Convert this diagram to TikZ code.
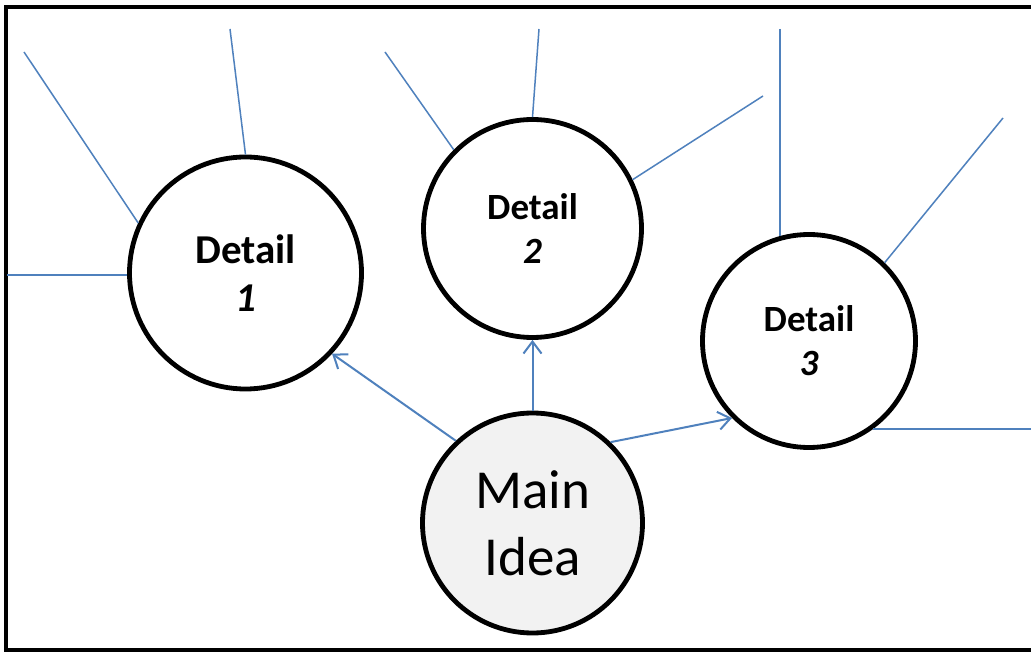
\documentclass[tikz,border=0pt]{standalone}
\usepackage{fontspec}
\setmainfont{Carlito}
\usetikzlibrary{arrows.meta}
\definecolor{lineblue}{HTML}{4F81BD}
\definecolor{mainfill}{HTML}{F2F2F2}
\begin{document}
\begin{tikzpicture}[x=1pt,y=1pt,
  bubble/.style={circle, draw=black, line width=4.8pt, fill=white, align=center, inner sep=0pt},
  spoke/.style={draw=lineblue, line width=1.5pt},
  link/.style={draw=lineblue, line width=2pt, -{Straight Barb[length=12pt,width=18pt]}},
]
\useasboundingbox (0,0) rectangle (1031,654);
\clip (0,0) rectangle (1031,654);
\fill[white] (0,0) rectangle (1031,654);
\draw[line width=4.5pt] (6,647) rectangle (1045,4);

\node[bubble, minimum size=232pt, font=\fontsize{41}{48}\selectfont\bfseries] (d1) at (245.5,381) {Detail\\\textit{1}};
\node[bubble, minimum size=218pt, font=\fontsize{37}{44}\selectfont\bfseries] (d2) at (532.5,425.5) {Detail\\\textit{2}};
\node[bubble, minimum size=213pt, font=\fontsize{37}{44}\selectfont\bfseries] (d3) at (809,313) {Detail\\\textit{3}};
\node[bubble, fill=mainfill, minimum size=220pt, font=\fontsize{55}{67}\selectfont] (m) at (532.5,131) {Main\\Idea};

% spokes of Detail 1
\coordinate (a1) at (24,602);
\coordinate (a2) at (230,625);
\coordinate (a3) at (7,0);
\draw[spoke] (a1) -- (d1.155);
\draw[spoke] (a2) -- (d1.90);
\draw[spoke] (d1.181) -- (d1.181 -| a3);

% spokes of Detail 2
\coordinate (b1) at (385,602);
\coordinate (b2) at (539,625);
\coordinate (b3) at (763,558);
\draw[spoke] (b1) -- (d2.135);
\draw[spoke] (b2) -- (d2.90);
\draw[spoke] (b3) -- (d2.26);

% spokes of Detail 3
\coordinate (c1) at (780,625);
\coordinate (c2) at (1003,536);
\coordinate (c3) at (1031,0);
\draw[spoke] (c1) -- (c1 |- d3.105.7);
\draw[spoke] (c2) -- (d3.46);
\draw[spoke] (d3.-54) -- (d3.-54 -| c3);

% arrows from main idea
\draw[link] (m.133.6) -- (d1.-43);
\draw[link] (m.north) -- (d2.south);
\draw[link] (m.46.8) -- (d3.225.7);
\end{tikzpicture}
\end{document}
